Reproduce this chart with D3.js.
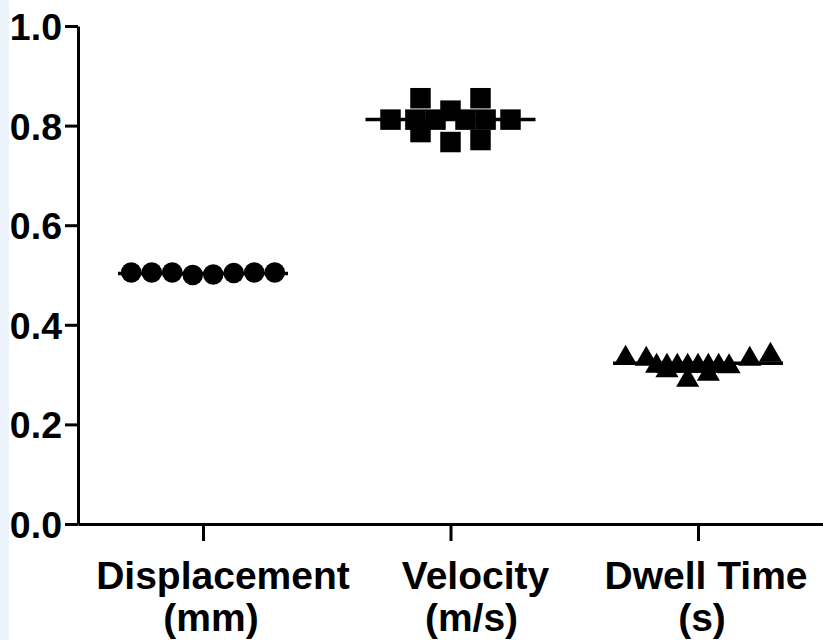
<!DOCTYPE html>
<html>
<head>
<meta charset="utf-8">
<script src="https://cdn.jsdelivr.net/npm/d3@7"></script>
<style>
  html, body { margin: 0; padding: 0; background: #ffffff; }
  svg { display: block; }
  text { font-family: "Liberation Sans", Arial, sans-serif; font-weight: bold; fill: #000; }
</style>
</head>
<body>
<svg id="chart" width="823" height="640"></svg>
<script>
// ---- data ----
const categories = ["Displacement", "Velocity", "Dwell Time"];
const categoryUnits = ["(mm)", "(m/s)", "(s)"];
const yTicks = [0.0, 0.2, 0.4, 0.6, 0.8, 1.0];
const groupMeans = [0.503, 0.812, 0.323];

const displacementValues = [0.505, 0.505, 0.505, 0.500, 0.501, 0.504, 0.505, 0.505];
const displacementSlots  = [-3.5, -2.5, -1.5, -0.5, 0.5, 1.5, 2.5, 3.5];

const velocityValues = [0.812, 0.855, 0.787, 0.830, 0.767, 0.855, 0.771, 0.812, 0.812, 0.812, 0.812, 0.812];
const velocitySlots  = [-2, -1, -1, 0, 0, 1, 1, 2, -1.17, -0.5, 0.5, 1.17];

const dwellValues = [0.333, 0.331, 0.308, 0.289, 0.301, 0.316, 0.331, 0.339,
                     0.317, 0.317, 0.317, 0.317, 0.317, 0.317, 0.317];
const dwellSlots  = [-3.5, -2.5, -1.5, -0.5, 0.5, 1.5, 2.5, 3.5,
                     -2, -1.5, -1, -0.5, 0, 0.5, 1];

// ---- layout ----
(function () {
const svg = d3.select("#chart");
const W = 823, H = 640;
const mLeft = 78, mRight = 823, mTop = 26, mBottom = 524;

svg.append("rect").attr("x", 0).attr("y", 0).attr("width", 9).attr("height", H).attr("fill", "#ecf3fb");

const x = d3.scalePoint().domain(categories).range([mLeft, mRight]).padding(0.505);
const y = d3.scaleLinear().domain([0, 1]).range([mBottom, mTop]);

const groups = [
  { cat: "Displacement", mean: groupMeans[0], values: displacementValues, slots: displacementSlots, spacing: 20.5,
    symbol: d3.symbol().type(d3.symbolCircle).size(Math.PI * 10.3 * 10.3) },
  { cat: "Velocity", mean: groupMeans[1], values: velocityValues, slots: velocitySlots, spacing: 30,
    symbol: d3.symbol().type(d3.symbolSquare).size(420) },
  { cat: "Dwell Time", mean: groupMeans[2], values: dwellValues, slots: dwellSlots, spacing: 20.7,
    symbol: d3.symbol().type(d3.symbolTriangle).size(230) }
];

// mean lines (drawn before the points)
groups.forEach(g => {
  svg.append("line")
    .attr("x1", x(g.cat) - 85).attr("x2", x(g.cat) + 85)
    .attr("y1", y(g.mean)).attr("y2", y(g.mean))
    .attr("stroke", "#000").attr("stroke-width", 3.5);
});

// points
groups.forEach(g => {
  svg.append("g").selectAll("path")
    .data(g.values.map((v, i) => ({ v, s: g.slots[i] })))
    .join("path")
    .attr("d", g.symbol)
    .attr("transform", d => `translate(${x(g.cat) + d.s * g.spacing},${y(d.v)})`)
    .attr("fill", "#000");
});

// y axis
const yAxis = svg.append("g")
  .attr("transform", `translate(${mLeft},0)`)
  .call(d3.axisLeft(y).tickValues(yTicks).tickFormat(d3.format(".1f")).tickSize(13).tickSizeOuter(0).tickPadding(3));
yAxis.selectAll("path.domain").attr("stroke", "#000").attr("stroke-width", 3);
yAxis.selectAll(".tick line").attr("stroke", "#000").attr("stroke-width", 3);
yAxis.selectAll(".tick text")
  .style("font-family", '"Liberation Sans", Arial, sans-serif')
  .style("font-weight", "bold").style("font-size", "37.5px").attr("fill", "#000")
  .attr("dy", "0.36em");

// x axis
const xAxis = svg.append("g")
  .attr("transform", `translate(0,${mBottom})`)
  .call(d3.axisBottom(x).tickSize(17).tickSizeOuter(0).tickFormat(""));
xAxis.selectAll("path.domain").attr("stroke", "#000").attr("stroke-width", 3);
xAxis.selectAll(".tick line").attr("stroke", "#000").attr("stroke-width", 3);

// category labels (two lines)
const line1Dx = [20, 25, 8];
const line2Dx = [8, 21, 4];
categories.forEach((c, i) => {
  svg.append("text")
    .attr("x", x(c) + line1Dx[i]).attr("y", 589)
    .attr("text-anchor", "middle").style("font-size", "39px")
    .text(c);
  svg.append("text")
    .attr("x", x(c) + line2Dx[i]).attr("y", 631)
    .attr("text-anchor", "middle").style("font-size", "39px")
    .text(categoryUnits[i]);
});
})();
</script>
</body>
</html>
